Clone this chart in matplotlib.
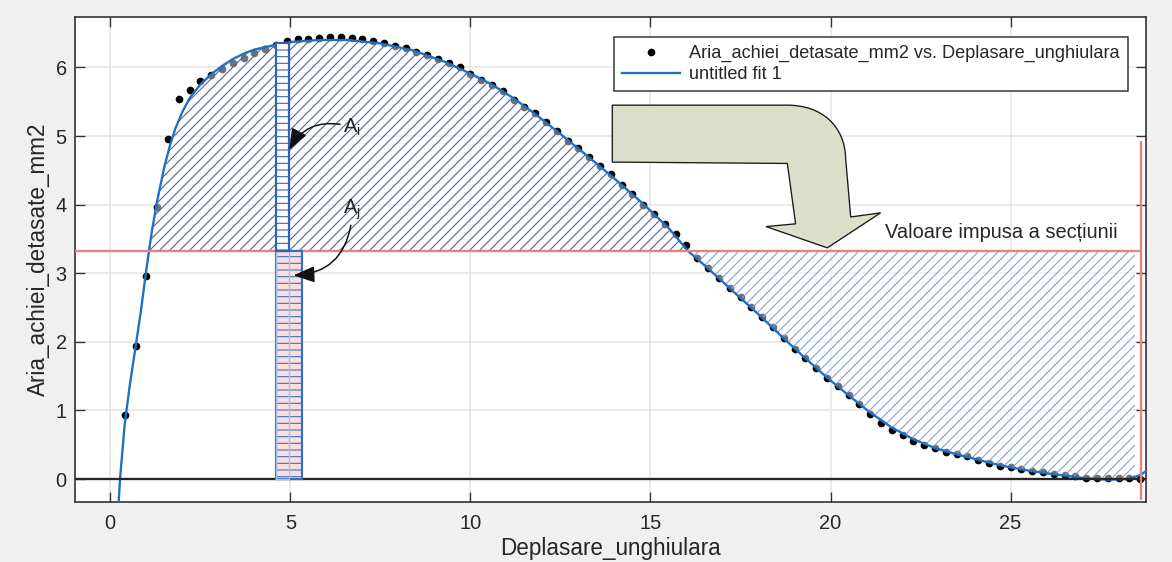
import matplotlib
matplotlib.use("Agg")
import matplotlib.pyplot as plt
import numpy as np
from matplotlib.path import Path
from matplotlib.patches import PathPatch

plt.rcParams['font.family'] = ['Liberation Sans', 'DejaVu Sans']
plt.rcParams['mathtext.fontset'] = 'custom'
plt.rcParams['mathtext.rm'] = 'Liberation Sans'
plt.rcParams['hatch.linewidth'] = 0.65

# ---------------- data ----------------
data_x = [0.4, 0.7, 1.0, 1.3, 1.6, 1.9, 2.2, 2.5, 2.8, 3.1, 3.4, 3.7, 4.0, 4.3, 4.6, 4.9,
          5.2, 5.5, 5.8, 6.1, 6.4, 6.7, 7.0, 7.3, 7.6, 7.9, 8.2, 8.5, 8.8, 9.1, 9.4, 9.7,
          10.0, 10.3, 10.6, 10.9, 11.2, 11.5, 11.8, 12.1, 12.4, 12.7, 13.0, 13.3, 13.6,
          13.9, 14.2, 14.5, 14.8, 15.1, 15.4, 15.7, 16.0, 16.3, 16.6, 16.9, 17.2, 17.5,
          17.8, 18.1, 18.4, 18.7, 19.0, 19.3, 19.6, 19.9, 20.2, 20.5, 20.8, 21.1, 21.4,
          21.7, 22.0, 22.3, 22.6, 22.9, 23.2, 23.5, 23.8, 24.1, 24.4, 24.7, 25.0, 25.3,
          25.6, 25.9, 26.2, 26.5, 26.8, 27.1, 27.4, 27.7, 28.0, 28.3, 28.6]
data_y = [0.94, 1.94, 2.96, 3.96, 4.95, 5.54, 5.67, 5.80, 5.89, 5.98, 6.07, 6.14, 6.21, 6.27,
          6.33, 6.38, 6.41, 6.42, 6.43, 6.44, 6.44, 6.43, 6.41, 6.39, 6.35, 6.31, 6.28, 6.23,
          6.18, 6.13, 6.07, 6.00, 5.91, 5.82, 5.74, 5.65, 5.53, 5.43, 5.33, 5.21, 5.07, 4.93,
          4.83, 4.70, 4.57, 4.44, 4.29, 4.16, 4.00, 3.87, 3.72, 3.57, 3.41, 3.22, 3.08, 2.93,
          2.79, 2.65, 2.51, 2.36, 2.21, 2.05, 1.90, 1.76, 1.62, 1.47, 1.35, 1.22, 1.09, 0.95,
          0.82, 0.72, 0.64, 0.56, 0.50, 0.45, 0.40, 0.36, 0.33, 0.28, 0.23, 0.19, 0.17, 0.14,
          0.12, 0.10, 0.08, 0.06, 0.04, 0.02, 0.01, 0.01, 0.01, 0.01, 0.00]

fit_x = [0.22, 0.27, 0.4, 0.55, 0.7, 0.85, 1.0, 1.15, 1.3, 1.5, 1.65, 1.8, 2.0, 2.2, 2.5,
         2.8, 3.1, 3.4, 3.7, 4.0, 4.6, 5.0, 5.8, 6.6, 7.5, 8.4, 9.3, 10.0, 10.6, 11.2, 11.8,
         12.5, 13.2, 14.0, 14.8, 15.5, 16.05, 16.6, 17.2, 18.0, 18.7, 19.3, 19.9, 20.5,
         21.1, 21.7, 22.3, 22.9, 23.5, 24.1, 24.7, 25.3, 25.9, 26.5, 27.1, 27.7, 28.2,
         28.45, 28.6, 28.9]
fit_y = [-0.45, 0.0, 0.80, 1.40, 1.92, 2.45, 3.05, 3.60, 4.05, 4.55, 4.85, 5.10, 5.35, 5.55,
         5.75, 5.90, 6.02, 6.12, 6.20, 6.26, 6.33, 6.37, 6.40, 6.40, 6.35, 6.25, 6.08, 5.91,
         5.75, 5.55, 5.32, 5.03, 4.73, 4.38, 4.01, 3.66, 3.32, 3.07, 2.78, 2.40, 2.05, 1.76,
         1.48, 1.22, 0.97, 0.75, 0.58, 0.45, 0.36, 0.28, 0.20, 0.14, 0.09, 0.05, 0.01,
         -0.01, 0.0, 0.03, 0.06, 0.16]

section_level = 3.32          # "Valoare impusa a sectiunii"
region_right = 28.45          # right end of lower hatched region
vline_x = 28.63               # vertical red line
vline_y = (-0.30, 4.93)
strip_x0, strip_x1, strip_x2 = 4.60, 4.97, 5.32
strip_top = 6.35

xticks = [0, 5, 10, 15, 20, 25]
yticks = [0, 1, 2, 3, 4, 5, 6]
xlim = (-0.98, 28.76)
ylim = (-0.335, 6.735)

legend_labels = ["Aria_achiei_detasate_mm2 vs. Deplasare_unghiulara", "untitled fit 1"]
xlabel = "Deplasare_unghiulara"
ylabel = "Aria_achiei_detasate_mm2"
note_text = "Valoare impusa a secțiunii"

# ---------------- figure ----------------
DPI = 120
fig = plt.figure(figsize=(1172 / DPI, 562 / DPI), dpi=DPI, facecolor='#f0f0f0')
ax = fig.add_axes([75 / 1172, 60 / 562, 1071 / 1172, 485 / 562])
ax.set_facecolor('white')
ax.set_xlim(*xlim)
ax.set_ylim(*ylim)

txt = '#262626'
ax.set_xticks(xticks)
ax.set_yticks(yticks)
ax.grid(True, color='#e4e4e4', lw=0.9, zorder=0)
ax.set_axisbelow(True)
ax.tick_params(direction='in', length=6, width=0.8, colors='#333333', labelcolor=txt,
               labelsize=12, top=True, right=True)
ax.tick_params(axis='x', pad=7)
ax.tick_params(axis='y', pad=5)
for s in ax.spines.values():
    s.set_color('#333333')
    s.set_linewidth(1.0)
ax.set_xlabel(xlabel, fontsize=13.5, color=txt, labelpad=2.5)
ax.set_ylabel(ylabel, fontsize=13.5, color=txt, labelpad=3)

fx = np.array(fit_x)
fy = np.array(fit_y)

# data points
pts, = ax.plot(data_x, data_y, 'o', color='black', markersize=3.6, zorder=2,
               linestyle='none', label=legend_labels[0])

# hatched regions
ax.fill_between(fx, section_level, fy, where=fy >= section_level, interpolate=True,
                facecolor=(1, 1, 1, 0.45), edgecolor='#4c60a6', hatch='////',
                linewidth=0, zorder=3)
mask = (fx >= 16.05) & (fx <= region_right)
ax.fill_between(fx, fy, section_level, where=mask, interpolate=False,
                facecolor=(1, 1, 1, 0.45), edgecolor='#7a9fe8', hatch='////',
                linewidth=0, zorder=3)

# fit line
fitline, = ax.plot(fx, fy, color='#1f6fc2', lw=1.4, zorder=4, label=legend_labels[1])

# zero line
ax.axhline(0, color='#262626', lw=1.4, zorder=5)

# strips
ax.bar(strip_x0, section_level, width=strip_x2 - strip_x0, bottom=0, align='edge',
       facecolor='#f8dede', edgecolor='#3a6fc0', hatch='---', linewidth=1.3, zorder=6)
ax.bar(strip_x0, section_level, width=strip_x1 - strip_x0, bottom=0, align='edge',
       facecolor='none', edgecolor='#a9c0e6', linewidth=0.8, zorder=6)
ax.bar(strip_x0, strip_top - section_level, width=strip_x1 - strip_x0, bottom=section_level,
       align='edge', facecolor='white', edgecolor='#2f63b8', hatch='---', linewidth=1.3,
       zorder=6)

# red lines
ax.hlines(section_level, xlim[0], vline_x, color='#e08580', lw=1.4, zorder=5)
ax.vlines(vline_x, vline_y[0], vline_y[1], color='#e08580', lw=1.4, zorder=5)

# block arrow
verts = [(13.94, 5.45), (18.80, 5.45), (19.75, 5.45), (20.40, 5.15), (20.42, 4.67),
         (20.56, 3.82), (21.39, 3.88), (19.91, 3.37), (18.21, 3.68), (19.03, 3.72),
         (18.80, 4.60), (13.94, 4.62), (13.94, 5.45)]
codes = [Path.MOVETO, Path.LINETO, Path.CURVE4, Path.CURVE4, Path.CURVE4,
         Path.LINETO, Path.LINETO, Path.LINETO, Path.LINETO, Path.LINETO,
         Path.LINETO, Path.LINETO, Path.CLOSEPOLY]
ax.add_patch(PathPatch(Path(verts, codes), facecolor='#dcdfca', edgecolor='#1a1a1a',
                       lw=0.8, zorder=7))

ax.text(21.5, 3.60, note_text, fontsize=12, color=txt, ha='left', va='center', zorder=8)

# A_i / A_j annotations
ax.text(6.45, 5.12, r'A$_{\rm i}$', fontsize=12, color='#222222', ha='left', va='center',
        zorder=8)
ax.text(6.45, 3.92, r'A$_{\rm j}$', fontsize=12, color='#222222', ha='left', va='center',
        zorder=8)
ax.annotate('', xy=(4.97, 4.80), xytext=(6.38, 5.17),
            arrowprops=dict(arrowstyle='-|>,head_length=0.9,head_width=0.35',
                            connectionstyle='arc3,rad=0.35', color='#111111', lw=0.9,
                            mutation_scale=12, shrinkA=0, shrinkB=0), zorder=8)
ax.annotate('', xy=(5.09, 2.97), xytext=(6.68, 3.70),
            arrowprops=dict(arrowstyle='-|>,head_length=0.9,head_width=0.35',
                            connectionstyle='arc3,rad=-0.4', color='#111111', lw=0.9,
                            mutation_scale=12, shrinkA=0, shrinkB=0), zorder=8)

leg = ax.legend(handles=[pts, fitline], loc='upper right',
                bbox_to_anchor=(1053 / 1071, 1 - 20 / 485), borderaxespad=0,
                fontsize=10.9, handlelength=3.2, handletextpad=0.5, labelspacing=0.2,
                borderpad=0.45, fancybox=False, framealpha=1, edgecolor='#333333',
                labelcolor=txt)
leg.get_frame().set_linewidth(0.9)
leg.set_zorder(10)

fig.savefig('out.png', dpi=DPI, facecolor=fig.get_facecolor())
